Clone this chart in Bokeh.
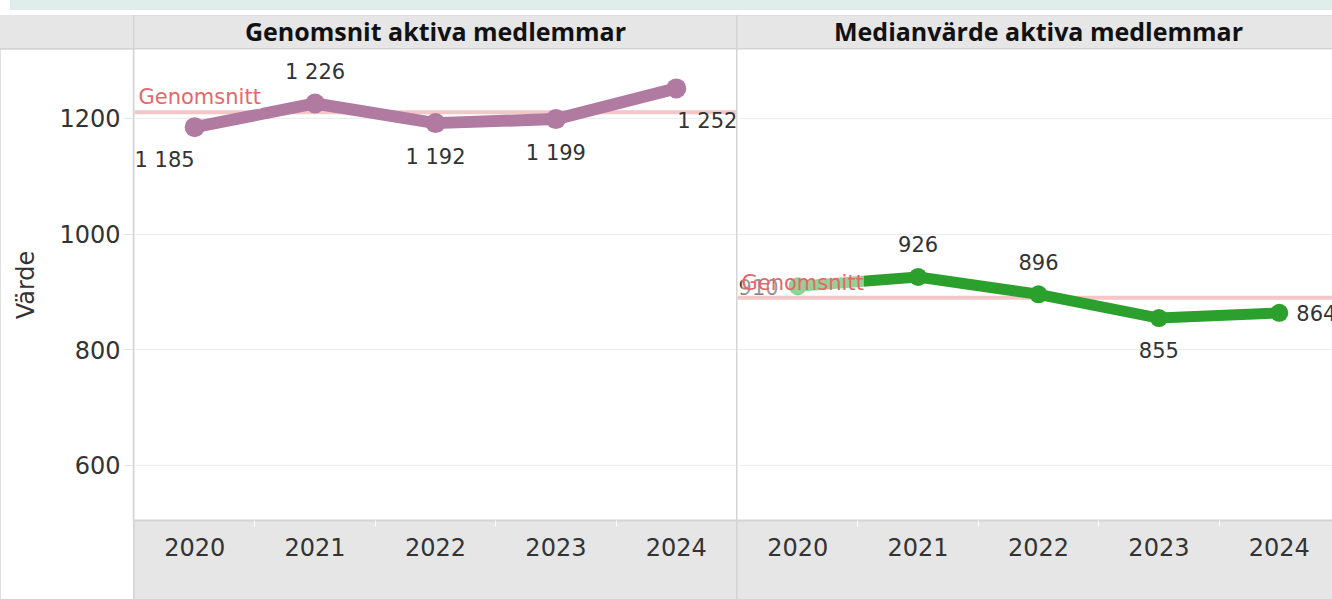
from bokeh.plotting import figure
from bokeh.models import Range1d, FixedTicker, Span, Label, ColumnDataSource, Div, Row, Column
from bokeh.embed import file_html
from bokeh.resources import INLINE
from bokeh.core.properties import value, field

# ---------------- data ----------------
years = ["2020", "2021", "2022", "2023", "2024"]
panel_titles = ["Genomsnit aktiva medlemmar", "Medianvärde aktiva medlemmar"]
avg_members = [1185, 1226, 1192, 1199, 1252]
median_members = [910, 926, 896, 855, 864]
y_ticks = [600, 800, 1000, 1200]
ref_label = "Genomsnitt"
y_axis_label = "Värde"

# ---------------- styles ----------------
FONT = "DejaVu Sans"
HEAD_FONT = "Open Sans"
TXT = "#333333"
GRAY = "#e6e6e6"
LINE_GRAY = "#d4d4d4"
PINK = "#f3c6c8"
REF_TXT = "#e5676b"
MAUVE = "#b07aa1"
GREEN = "#2ca02c"

W_LEFT, W_P1, W_P2 = 133, 602, 595
H_HEAD, H_BODY, B_BOTTOM = 33, 550, 79
BAND = W_P1 / len(years)
Y_RANGE = (504.9, 1319.3)

# label placement per point (align, dx, dy)
avg_place = (["right", "center", "center", "center", "left"],
             [0, 0, 0, 0, 1],
             [33, -31, 34, 34, 33])
med_place = (["right", "center", "center", "center", "left"],
             [-19, 0, 0, 0, 17],
             [1, -33, -32, 32, 0])


def fmt(v):
    return f"{v:,}".replace(",", " ")


y_range = Range1d(*Y_RANGE)


def make_panel(values, width, color, place, lw, size):
    x_start = -0.5
    x_end = x_start + width / BAND
    p = figure(width=width, height=H_BODY, x_range=Range1d(x_start, x_end), y_range=y_range,
               output_backend="svg", toolbar_location=None, y_axis_location=None,
               min_border_left=0, min_border_right=0, min_border_top=0,
               min_border_bottom=B_BOTTOM, border_fill_color=GRAY,
               background_fill_color="white", outline_line_color=None)
    p.xgrid.visible = False
    p.ygrid.ticker = FixedTicker(ticks=y_ticks)
    p.ygrid.grid_line_color = "#ececec"
    p.ygrid.grid_line_width = 1

    ax = p.xaxis[0]
    ax.ticker = FixedTicker(ticks=list(range(len(years))),
                            minor_ticks=[i + 0.5 for i in range(len(years) - 1)])
    ax.major_label_overrides = {i: y for i, y in enumerate(years)}
    ax.major_tick_line_color = None
    ax.minor_tick_line_color = "white"
    ax.minor_tick_out = 6
    ax.minor_tick_in = 0
    ax.axis_line_color = LINE_GRAY
    ax.axis_line_width = 2
    ax.major_label_text_font = FONT
    ax.major_label_text_font_size = "24px"
    ax.major_label_text_color = TXT
    ax.major_label_standoff = 11

    mean = sum(values) / len(values)
    p.add_layout(Span(location=mean, dimension="width", line_color=PINK,
                      line_width=4, level="underlay"))

    src = ColumnDataSource(dict(
        x=list(range(len(years))), y=values, label=[fmt(v) for v in values],
        align=place[0], dx=place[1], dy=place[2]))
    p.line(x="x", y="y", source=src, line_color=color, line_width=lw, line_join="round")
    p.scatter(x="x", y="y", source=src, size=size, fill_color=color, line_color=None)
    p.text(x="x", y="y", text="label", source=src, text_align=field("align"),
           text_baseline="middle", x_offset="dx", y_offset="dy",
           text_font=value(FONT), text_font_size="21px", text_color=TXT)

    p.add_layout(Label(x=x_start, y=mean, x_offset=4, y_offset=3, text=ref_label,
                       text_align="left", text_baseline="bottom", text_font=FONT,
                       text_font_size="21px", text_color=REF_TXT,
                       background_fill_color="white", background_fill_alpha=0.5,
                       level="overlay"))
    return p


p1 = make_panel(avg_members, W_P1, MAUVE, avg_place, 12, 20)
p2 = make_panel(median_members, W_P2, GREEN, med_place, 11, 18)


def make_header(title, width, panel):
    h = figure(width=width, height=H_HEAD, x_range=panel.x_range, y_range=Range1d(0, 1),
               output_backend="svg", toolbar_location=None, x_axis_location=None,
               y_axis_location=None, min_border=0, background_fill_color=GRAY,
               border_fill_color=GRAY, outline_line_color=None)
    h.grid.visible = False
    h.text(x=[(len(years) - 1) / 2], y=[0.5], text=[title], text_align="center",
           text_baseline="middle", text_font=value(HEAD_FONT), text_font_style="bold",
           text_font_size="25px", text_color="#111111", y_offset=-1)
    return h


h1 = make_header(panel_titles[0], W_P1, p1)
h2 = make_header(panel_titles[1], W_P2, p2)

# y-axis column
py = figure(width=W_LEFT, height=H_BODY, x_range=Range1d(0, 1), y_range=y_range,
            output_backend="svg", toolbar_location=None, x_axis_location=None,
            min_border_left=W_LEFT - 1, min_border_right=0, min_border_top=0,
            min_border_bottom=B_BOTTOM, border_fill_color="white",
            background_fill_color="white", outline_line_color=None)
py.grid.visible = False
ya = py.yaxis[0]
ya.ticker = FixedTicker(ticks=y_ticks)
ya.axis_line_color = None
ya.major_tick_line_color = "#e2e2e2"
ya.major_tick_out = 8
ya.major_tick_in = 0
ya.minor_tick_line_color = None
ya.major_label_text_font = FONT
ya.major_label_text_font_size = "24px"
ya.major_label_text_color = TXT
ya.major_label_standoff = 4
ya.axis_label = y_axis_label
ya.axis_label_text_font = FONT
ya.axis_label_text_font_size = "24px"
ya.axis_label_text_font_style = "normal"
ya.axis_label_text_color = TXT
ya.axis_label_standoff = 16

left_head = Div(width=W_LEFT, height=H_HEAD, margin=0, styles={"background-color": GRAY})

header_row = Row(children=[left_head, h1, h2], spacing=1,
                 styles={"background-color": LINE_GRAY})
body_row = Row(children=[py, p1, p2], spacing=1,
               styles={"background-color": LINE_GRAY})
inner = Column(children=[header_row, body_row], spacing=1,
               styles={"background-color": LINE_GRAY})
strip = Div(width=1322, height=10, margin=(0, 0, 5, 10),
            styles={"background-color": "#e0eeeb"})
root = Column(children=[strip, inner])

open("out.html", "w").write(file_html(root, INLINE))
